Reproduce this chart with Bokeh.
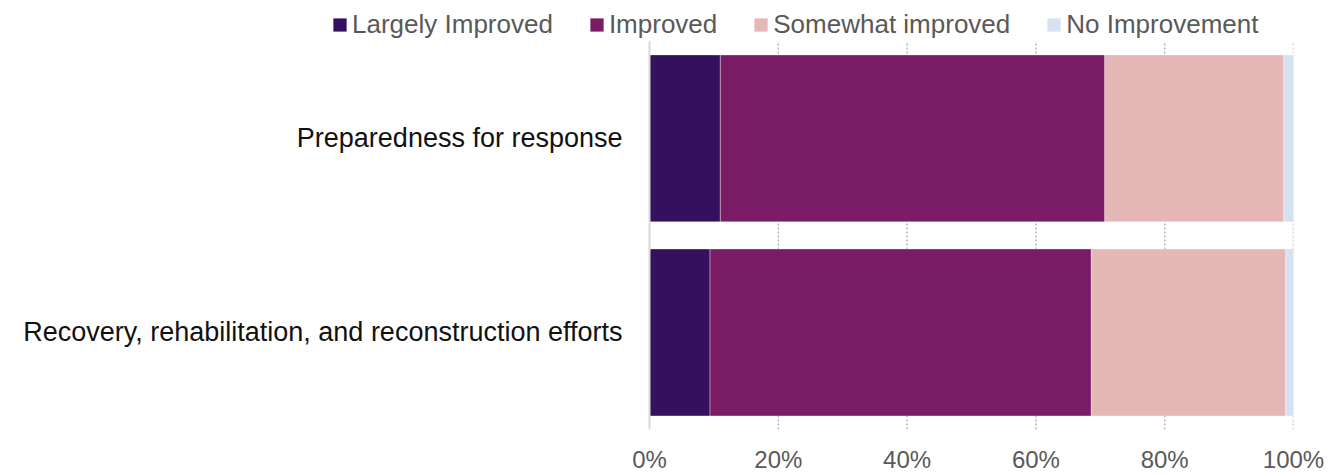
from bokeh.plotting import figure
from bokeh.core.properties import value
from bokeh.models import (ColumnDataSource, Range1d, Legend, LegendItem,
                          PrintfTickFormatter, FixedTicker)
from bokeh.embed import file_html
from bokeh.resources import INLINE

categories = ["Preparedness for response",
              "Recovery, rehabilitation, and reconstruction efforts"]
series = ["Largely Improved", "Improved", "Somewhat improved", "No Improvement"]
largely_improved = [11.0, 9.4]
improved = [59.7, 59.2]
somewhat_improved = [27.8, 30.2]
no_improvement = [1.5, 1.2]
x_ticks = [0, 20, 40, 60, 80, 100]
colors = ["#34105E", "#7A1B65", "#E5B7B7", "#D6E1F2"]

FONT = "Liberation Sans"

# layout constants (pixels)
W, H = 1341, 475
FRAME_RIGHT_PAD = 48
ZERO_PX = 649          # screen x of the 0% axis
BOTTOM_PAD = 44
TOP_PLOT_PX = 41       # top of the bar area
n = len(categories)
ypos = list(range(n - 1, -1, -1))   # first category at the top

frame_w = W - FRAME_RIGHT_PAD
frame_h = H - BOTTOM_PAD
px_per_unit = (frame_w - ZERO_PX) / 100.0
x_start = -ZERO_PX / px_per_unit
band_px = (frame_h - TOP_PLOT_PX) / n
y_lo = -0.5
y_hi_plot = n - 0.5
y_hi = y_hi_plot + TOP_PLOT_PX / band_px

source = ColumnDataSource(dict(
    y=ypos, cat=categories,
    s0=largely_improved, s1=improved, s2=somewhat_improved, s3=no_improvement,
))

p = figure(width=W, height=H, output_backend="svg", toolbar_location=None,
           x_range=Range1d(x_start, 100), y_range=Range1d(y_lo, y_hi),
           min_border_left=0, min_border_right=FRAME_RIGHT_PAD,
           min_border_top=0, min_border_bottom=BOTTOM_PAD)
p.outline_line_color = None
p.background_fill_color = "white"
p.grid.visible = False
p.yaxis.visible = False

# dotted vertical gridlines (only over the bar area)
grid_x = x_ticks[1:]
p.segment(x0=grid_x, x1=grid_x, y0=[y_lo] * len(grid_x), y1=[y_hi_plot] * len(grid_x),
          line_color="#B3B3B3", line_dash="2 2", line_width=1.5)

renderers = p.hbar_stack(["s0", "s1", "s2", "s3"], y="y", height=0.86, color=colors,
                         source=source, line_color="white", line_width=1, line_alpha=0.35)

# vertical axis line at 0%
p.segment(x0=[0], x1=[0], y0=[y_lo], y1=[y_hi_plot], line_color="#D9D9D9", line_width=2)

# category labels
p.text(x=0, y="y", text="cat", source=source, x_offset=-27,
       text_align="right", text_baseline="middle",
       text_font=value(FONT), text_font_size="27px", text_color="#111111")

p.xaxis.ticker = FixedTicker(ticks=x_ticks)
p.xaxis.formatter = PrintfTickFormatter(format="%d%%")
p.xaxis.axis_line_color = None
p.xaxis.major_tick_line_color = None
p.xaxis.minor_tick_line_color = None
p.xaxis.major_label_text_font = FONT
p.xaxis.major_label_text_font_size = "24px"
p.xaxis.major_label_text_color = "#595959"
p.xaxis.major_label_standoff = 10

items = [LegendItem(label=s, renderers=[r]) for s, r in zip(series, renderers)]
legend = Legend(items=items, orientation="horizontal", location=(331, frame_h - 42),
                label_text_font=FONT, label_text_font_size="26px",
                label_text_color="#595959", glyph_width=17, glyph_height=17,
                label_standoff=4, spacing=35, padding=0, margin=0,
                border_line_color=None, background_fill_alpha=0)
p.add_layout(legend, "center")

open("out.html", "w").write(file_html(p, INLINE))
